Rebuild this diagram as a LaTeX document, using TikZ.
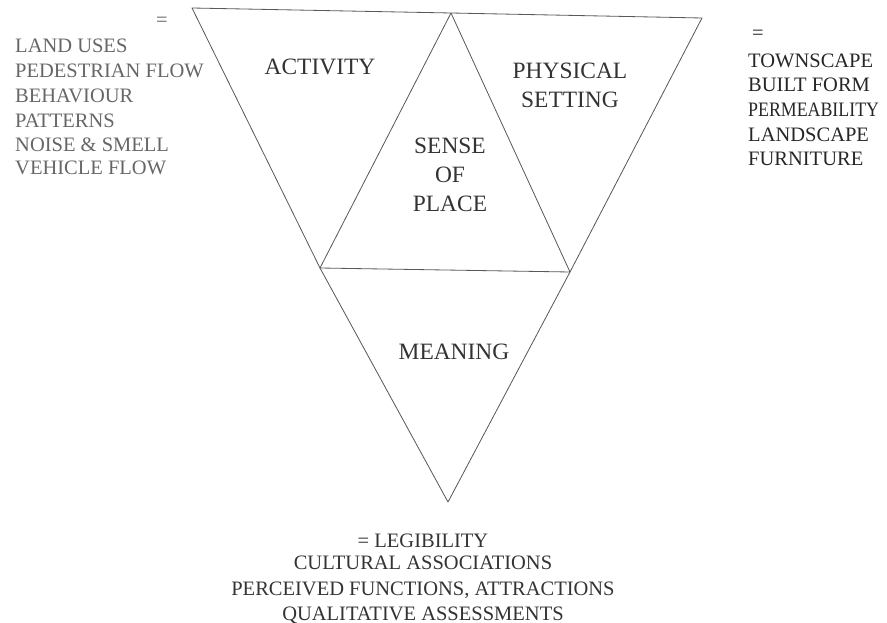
\documentclass[tikz,border=0pt]{standalone}
\usepackage{fontspec}
\setmainfont{Liberation Serif}
\usetikzlibrary{positioning}

\begin{document}
\begin{tikzpicture}[x=0.03cm, y=-0.03cm,
  edge/.style={black!65, line width=0.7pt, line join=round},
  zone/.style={inner sep=0pt, black!80, align=center, font=\fontsize{20}{24.7}\selectfont},
  item/.style={inner sep=0pt, font=\fontsize{17.5}{20}\selectfont}]
\useasboundingbox (0,0) rectangle (887,623);
\coordinate (tl) at (192,8);
\coordinate (tm) at (451,13);
\coordinate (tr) at (702,18);
\coordinate (lm) at (320,268);
\coordinate (rm) at (570,272);
\coordinate (bt) at (448,502);
\draw[edge] (tl) -- (tm) -- (tr) -- (rm) -- (bt) -- (lm) -- cycle;
\draw[edge] (lm) -- (tm) -- (rm) -- cycle;
\node[zone] (activity) at (320,66.5) {ACTIVITY};
\node[zone] (physical) at (570,85.5) {PHYSICAL\\SETTING};
\node[zone] (sense) at (450,175) {SENSE\\OF\\PLACE};
\node[zone] (meaning) at (454,351.5) {MEANING};
\node[item, black!60] (eqact) at (162,22) {=};
\foreach \y/\lbl [count=\i] in {53/LAND USES, 78/PEDESTRIAN FLOW, 103/BEHAVIOUR,
    128/PATTERNS, 152/NOISE \& SMELL, 175/VEHICLE FLOW}{
  \node[item, black!60, anchor=base west] (act\i) at (15,\y) {\lbl};
}
\node[item, black!85] (eqphys) at (758,35) {=};
\foreach \y/\lbl [count=\i] in {68/TOWNSCAPE, 92/BUILT FORM, 117/\scalebox{0.87}[1]{PERMEABILITY},
    142/LANDSCAPE, 166/FURNITURE}{
  \node[item, black!85, anchor=base west] (phys\i) at (748,\y) {\lbl};
}
\foreach \y/\lbl [count=\i] in {547/= LEGIBILITY, 569/CULTURAL ASSOCIATIONS,
    595/{PERCEIVED FUNCTIONS, ATTRACTIONS}, 620/QUALITATIVE ASSESSMENTS}{
  \node[item, black!80, anchor=base] (mean\i) at (423,\y) {\lbl};
}
\end{tikzpicture}
\end{document}
